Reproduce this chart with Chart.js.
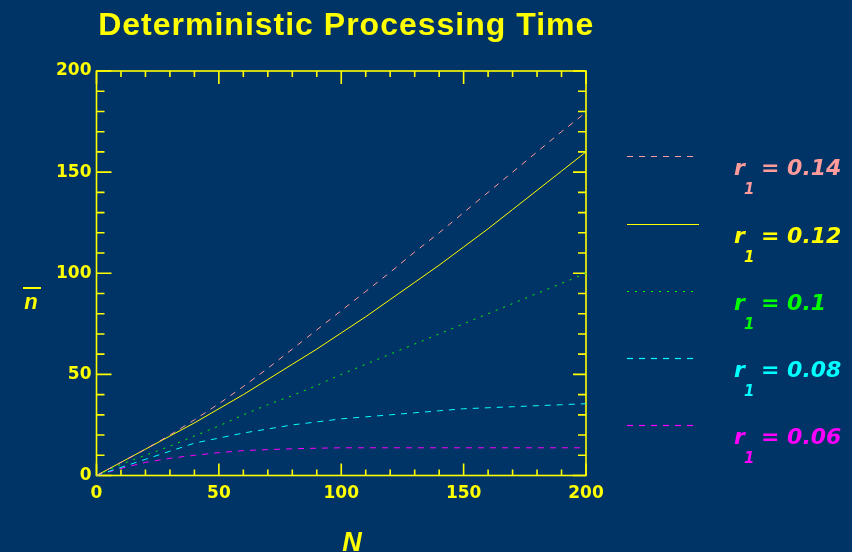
<!DOCTYPE html>
<html>
<head>
<meta charset="utf-8">
<title>Deterministic Processing Time</title>
<script src="https://cdn.jsdelivr.net/npm/chart.js@4/dist/chart.umd.min.js"></script>
<style>
  html, body { margin: 0; padding: 0; background: #003366; }
  #wrap { width: 852px; height: 552px; position: relative; }
</style>
</head>
<body>
<div id="wrap"><canvas id="chart"></canvas></div>
<script>
// number of customers N
const nValues = [0, 10, 20, 30, 40, 50, 60, 70, 80, 90, 100, 110, 120, 130, 140, 150, 160, 170, 180, 190, 200];

// mean queue length n-bar for each r1
const r014 = [0, 6.5, 13, 20, 27.5, 35.5, 44, 53, 62.5, 72, 81.5, 91, 100.5, 110.5, 120, 130, 140, 150, 160, 170, 179.5];
const r012 = [0, 6.5, 13, 19.5, 26, 33, 40, 47.5, 55, 62.5, 70.5, 78.5, 87, 95.5, 104, 113, 122, 131.5, 141, 150.5, 160];
const r010 = [0, 5.5, 10, 14.5, 19.5, 24.5, 30, 35, 39.5, 44.5, 50, 55, 60, 65, 70, 75, 80, 85, 90, 95, 100];
const r008 = [0, 4, 8, 12, 16, 18.5, 21, 23, 25, 26.5, 28, 29, 30, 31, 32, 33, 33.5, 34, 34.5, 35, 35.5];
const r006 = [0, 3.5, 6.5, 8.5, 10, 11.3, 12.3, 12.8, 13.2, 13.5, 13.7, 13.7, 13.7, 13.7, 13.7, 13.7, 13.7, 13.7, 13.7, 13.7, 13.7];

const rLabels = ['0.14', '0.12', '0.1', '0.08', '0.06'];
const lineColors = ['#ff9b9b', '#ffff00', '#00ff00', '#00ffff', '#ff00ff'];
const lineDashes = [[6, 6], [], [2, 6], [6, 6], [6, 6]];

const xTicks = [0, 50, 100, 150, 200];
const yTicks = [0, 50, 100, 150, 200];

const AXIS = '#ffff00';

function toPoints(vals) {
  return nValues.map((n, i) => ({ x: n, y: vals[i] }));
}

// box axes with inward ticks on all four sides
const frame = {
  id: 'frame',
  beforeDatasetsDraw(chart) {
    const { ctx, chartArea: a, scales: { x, y } } = chart;
    ctx.save();
    ctx.strokeStyle = AXIS;
    ctx.lineWidth = 1.6;
    ctx.strokeRect(a.left, a.top, a.right - a.left, a.bottom - a.top);
    ctx.beginPath();
    for (let v = 0; v <= 200; v += 10) {
      const major = v % 50 === 0;
      const px = x.getPixelForValue(v);
      const py = y.getPixelForValue(v);
      ctx.moveTo(px, a.bottom); ctx.lineTo(px, a.bottom - (major ? 12 : 6));
      ctx.moveTo(px, a.top); ctx.lineTo(px, a.top + (major ? 13 : 6));
      ctx.moveTo(a.left, py); ctx.lineTo(a.left + (major ? 15 : 8), py);
      ctx.moveTo(a.right, py); ctx.lineTo(a.right - (major ? 13 : 8), py);
    }
    ctx.stroke();
    ctx.restore();
  }
};

// title, axis names and the r1 key
const labels = {
  id: 'labels',
  afterDraw(chart) {
    const { ctx, chartArea: a } = chart;
    ctx.save();
    ctx.fillStyle = AXIS;
    ctx.textBaseline = 'alphabetic';

    ctx.font = 'bold 32px "Liberation Sans", Arial, sans-serif';
    ctx.textAlign = 'center';
    ctx.letterSpacing = '1px';
    ctx.fillText('Deterministic Processing Time', (a.left + a.right) / 2 + 5, 35);
    ctx.letterSpacing = '0px';

    ctx.font = 'italic bold 27px "Liberation Sans", Arial, sans-serif';
    ctx.fillText('N', 352, 551);

    ctx.font = 'italic bold 22px "Liberation Sans", Arial, sans-serif';
    ctx.fillText('n', 31, 309);
    ctx.strokeStyle = AXIS;
    ctx.lineWidth = 2;
    ctx.beginPath();
    ctx.moveTo(23, 288); ctx.lineTo(41, 288);
    ctx.stroke();

    const keyY = [156, 224, 291, 358, 425];
    rLabels.forEach((r, i) => {
      const ly = keyY[i];
      ctx.strokeStyle = lineColors[i];
      ctx.fillStyle = lineColors[i];
      ctx.lineWidth = 1.2;
      ctx.setLineDash(lineDashes[i]);
      ctx.beginPath();
      ctx.moveTo(627, ly + 0.5); ctx.lineTo(699, ly + 0.5);
      ctx.stroke();
      ctx.setLineDash([]);
      ctx.textAlign = 'left';
      ctx.font = 'italic bold 22px "DejaVu Sans", sans-serif';
      ctx.fillText('r', 734, ly + 19);
      ctx.font = 'italic bold 15px "DejaVu Sans", sans-serif';
      ctx.fillText('1', 744, ly + 38);
      ctx.font = 'italic bold 22px "DejaVu Sans", sans-serif';
      ctx.fillText('= ' + r, 761, ly + 19);
    });
    ctx.restore();
  }
};

function createChart() {
  const ctx = document.getElementById('chart').getContext('2d');
  const datasets = [r014, r012, r010, r008, r006].map((vals, i) => ({
    label: 'r1 = ' + rLabels[i],
    data: toPoints(vals),
    borderColor: lineColors[i],
    borderWidth: 1,
    borderDash: lineDashes[i],
    pointRadius: 0,
    tension: 0,
    fill: false,
  }));

  const tickFont = { family: '"DejaVu Sans", sans-serif', size: 17, weight: 'bold' };

  return new Chart(ctx, {
    type: 'line',
    data: { datasets },
    options: {
      responsive: true,
      maintainAspectRatio: false,
      animation: false,
      layout: { padding: { left: 0, top: 71, right: 266, bottom: 0 } },
      plugins: {
        legend: { display: false },
        title: { display: false },
        tooltip: { enabled: false },
      },
      scales: {
        x: {
          type: 'linear',
          min: 0,
          max: 200,
          afterBuildTicks: (s) => { s.ticks = xTicks.map((v) => ({ value: v })); },
          afterFit: (s) => { s.height = 76.5; },
          ticks: { color: AXIS, font: tickFont, padding: 8, maxRotation: 0 },
          grid: { display: false, drawTicks: false },
          border: { display: false },
        },
        y: {
          type: 'linear',
          min: 0,
          max: 200,
          afterBuildTicks: (s) => { s.ticks = yTicks.map((v) => ({ value: v })); },
          afterFit: (s) => { s.width = 96.5; },
          ticks: { color: AXIS, font: tickFont, padding: 5 },
          grid: { display: false, drawTicks: false },
          border: { display: false },
        },
      },
    },
    plugins: [frame, labels],
  });
}

createChart();
</script>
</body>
</html>
